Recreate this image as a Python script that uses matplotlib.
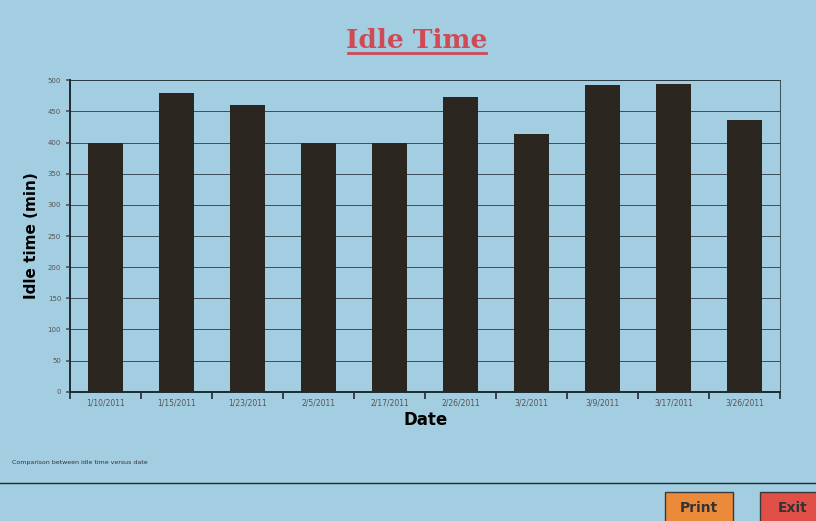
import numpy as np
import matplotlib
matplotlib.use("Agg")
import matplotlib.pyplot as plt
from matplotlib.patches import FancyBboxPatch

# data
dates = ["1/10/2011", "1/15/2011", "1/23/2011", "2/5/2011", "2/17/2011",
         "2/26/2011", "3/2/2011", "3/9/2011", "3/17/2011", "3/26/2011"]
idle_min = [399, 479, 461, 400, 400, 473, 413, 492, 494, 436]

BG = "#a3cde0"
BAR = "#2b2620"
TITLE_RED = "#cf4a55"

fig = plt.figure(figsize=(8.16, 5.21), dpi=100, facecolor=BG)
ax = fig.add_axes([0.086, 0.248, 0.870, 0.598])
ax.set_facecolor(BG)

x = np.arange(len(dates))
ax.bar(x, idle_min, width=0.5, color=BAR, zorder=3)

ax.set_xlim(-0.5, len(dates) - 0.5)
ax.set_ylim(0, 500)
ax.set_yticks(np.arange(0, 501, 50))
ax.tick_params(axis="y", labelsize=5, colors="#555555", length=3, width=1.2)
ax.grid(axis="y", color="#2a3a42", linewidth=0.6, zorder=0)

# labels at bar centres, tick marks at category boundaries
ax.set_xticks(x)
ax.set_xticklabels(dates, fontsize=5.5, color="#555555")
ax.tick_params(axis="x", which="major", length=0, pad=5)
ax.set_xticks(np.arange(-0.5, len(dates)), minor=True)
ax.tick_params(axis="x", which="minor", length=5, width=1.2, color="#1e2a30")

for s in ["left", "bottom"]:
    ax.spines[s].set_linewidth(1.4)
    ax.spines[s].set_color("#1e2a30")
for s in ["top", "right"]:
    ax.spines[s].set_linewidth(0.6)
    ax.spines[s].set_color("#2a3a42")

ax.set_ylabel("Idle time (min)", fontsize=11, fontweight="bold", labelpad=6)
ax.set_xlabel("Date", fontsize=12, fontweight="bold", labelpad=2)

# title, underlined
fig.text(0.511, 0.922, "Idle Time", ha="center", va="center",
         fontsize=19, fontweight="bold", family="DejaVu Serif", color=TITLE_RED)
fig.add_artist(plt.Line2D([0.426, 0.596], [0.898, 0.898], color=TITLE_RED,
                          linewidth=2, transform=fig.transFigure))

fig.text(0.015, 0.112, "Comparison between idle time versus date",
         fontsize=4.5, color="#333333", va="center")
fig.add_artist(plt.Line2D([0.0, 1.0], [0.073, 0.073], color="#1e2a30",
                          linewidth=1.0, transform=fig.transFigure))

# buttons
for x0, w, col, label in [(0.815, 0.083, "#ec8a3c", "Print"),
                          (0.931, 0.08, "#e05048", "Exit")]:
    fig.add_artist(FancyBboxPatch((x0, -0.01), w, 0.065, boxstyle="square,pad=0",
                                  facecolor=col, edgecolor="#3a3a3a", linewidth=1,
                                  transform=fig.transFigure))
    fig.text(x0 + w / 2, 0.024, label, ha="center", va="center",
             fontsize=10, fontweight="bold", color="#333333")

fig.savefig("out.png", dpi=100, facecolor=BG)
